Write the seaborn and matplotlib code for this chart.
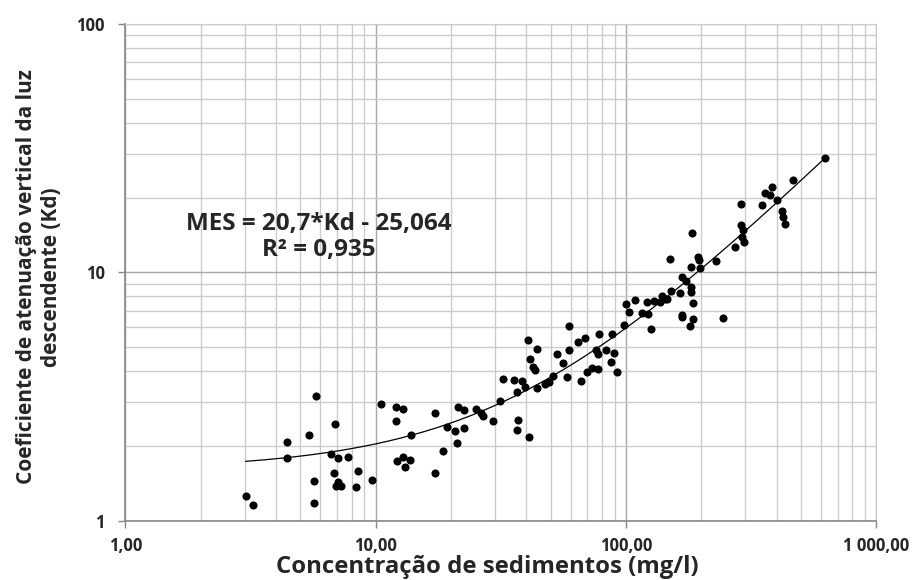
import numpy as np
import pandas as pd
import matplotlib
matplotlib.use("Agg")
import matplotlib.pyplot as plt
import matplotlib.ticker as mticker
import seaborn as sns

# Concentração de sedimentos (mg/l)
mes = [3.02, 3.23, 4.43, 4.43, 5.43, 5.64, 5.64, 5.75, 6.62, 6.85,
       6.84, 7.04, 7.04, 6.93, 7.23, 7.74, 8.35, 8.53, 9.67, 10.49,
       12.04, 12.84, 12.04, 12.19, 12.84, 13.70, 13.08, 13.89, 17.29, 17.29,
       18.51, 19.31, 20.72, 21.07, 21.21, 22.51, 22.51, 25.14, 26.33, 26.94,
       29.31, 31.35, 32.14, 35.72, 36.76, 37.17, 36.83, 38.49, 39.64, 41.13,
       40.75, 41.24, 42.46, 43.37, 44.18, 44.18, 47.55, 49.20, 51.05, 52.81,
       55.81, 58.23, 59.04, 58.98, 64.54, 68.33, 65.86, 70.12, 73.22, 77.44,
       76.16, 78.15, 77.44, 82.87, 88.10, 87.05, 89.66, 91.82, 97.9, 100.4,
       103.2, 108.7, 115.5, 122.1, 121.2, 129.5, 125.8, 136.6, 139.5, 143.7,
       145.7, 151.1, 163.9, 166.8, 166.8, 166.8, 174.0, 182.0, 181.7, 184.7,
       185.1, 180.5, 245.0, 149.5, 181.4, 193.8, 196.1, 198.3, 229.7, 183.9,
       271.7, 287.7, 287.7, 293.9, 290.4, 295.0, 350.1, 358.9, 375.8, 382.1,
       401.9, 419.7, 424.8, 431.4, 465.2, 623.2]

# Coeficiente de atenuação vertical da luz (Kd)
kd = [1.26, 1.153, 2.077, 1.791, 2.204, 1.448, 1.180, 3.18, 1.854, 2.446,
      1.554, 1.786, 1.428, 1.376, 1.382, 1.806, 1.370, 1.588, 1.460, 2.94,
      2.869, 2.81, 2.52, 1.733, 1.798, 1.762, 1.651, 2.224, 2.703, 1.554,
      1.902, 2.384, 2.293, 2.058, 2.877, 2.793, 2.357, 2.805, 2.716, 2.641,
      2.522, 3.034, 3.737, 3.683, 3.313, 2.539, 2.321, 3.666, 3.444, 2.174,
      5.32, 4.462, 4.176, 4.058, 4.918, 3.435, 3.551, 3.624, 3.831, 4.684,
      4.333, 3.778, 4.873, 6.055, 5.263, 5.461, 3.668, 3.957, 4.126, 4.096,
      4.887, 5.636, 4.710, 4.851, 5.662, 4.349, 4.732, 3.983, 6.153, 7.471,
      6.926, 7.775, 6.850, 6.787, 7.598, 7.683, 5.917, 7.577, 8.031, 7.790,
      7.847, 8.396, 8.257, 6.736, 6.582, 9.574, 9.270, 8.728, 8.311, 7.493,
      6.504, 6.097, 6.570, 11.33, 10.53, 11.50, 11.24, 10.45, 11.07, 14.41,
      12.61, 18.87, 15.56, 14.79, 13.84, 13.26, 18.67, 20.79, 20.50, 22.12,
      19.65, 17.60, 16.65, 15.73, 23.64, 28.92]

x_ticks = [1, 10, 100, 1000]
x_tick_labels = ["1,00", "10,00", "100,00", "1 000,00"]
y_ticks = [1, 10, 100]
y_tick_labels = ["1", "10", "100"]

df = pd.DataFrame({"MES": mes, "Kd": kd})

sns.set_style("white")
font = ["Open Sans", "DejaVu Sans"]

fig = plt.figure(figsize=(9.16, 5.8), dpi=100)
ax = fig.add_axes([0.137, 0.1022, 0.8197, 0.8564])

ax.set_xscale("log")
ax.set_yscale("log")
ax.set_xlim(1, 1000)
ax.set_ylim(1, 100)

# grid
ax.grid(True, which="major", color="#a8a8a8", linewidth=1.0)
ax.grid(True, which="minor", color="#cccccc", linewidth=1.0)
ax.set_axisbelow(True)

# linear trend line (fitted from the data, as in the spreadsheet)
b, a = np.polyfit(df["MES"], df["Kd"], 1)
xs = np.logspace(np.log10(min(mes)), np.log10(max(mes)), 200)
ax.plot(xs, a + b * xs, color="black", linewidth=0.9, zorder=2)

sns.scatterplot(data=df, x="MES", y="Kd", ax=ax, color="black", s=34,
                edgecolor="black", linewidth=0, zorder=3)

ax.set_xticks(x_ticks)
ax.set_xticklabels(x_tick_labels, fontfamily=font, fontweight="bold", fontsize=12)
ax.set_yticks(y_ticks)
ax.set_yticklabels(y_tick_labels, fontfamily=font, fontweight="bold", fontsize=12)
ax.xaxis.set_minor_formatter(mticker.NullFormatter())
ax.yaxis.set_minor_formatter(mticker.NullFormatter())
ax.tick_params(which="major", length=5, width=1, color="#888888", direction="out",
               bottom=True, left=True)
ax.tick_params(axis="x", pad=7)
ax.tick_params(axis="y", pad=10)
ax.tick_params(which="minor", length=0)

for side in ["top", "right"]:
    ax.spines[side].set_color("#cccccc")
for side in ["bottom", "left"]:
    ax.spines[side].set_color("#888888")
    ax.spines[side].set_linewidth(1.2)

ax.set_xlabel("")
ax.set_ylabel("")
fig.text(0.5317, 0.012, "Concentração de sedimentos (mg/l)", family=font,
         fontweight="bold", fontsize=17.2, ha="center", va="baseline")
fig.text(0.0431, 0.5224, "Coeficiente de atenuação vertical da luz\ndescendente (Kd)",
         family=font, fontweight="bold", fontsize=15, rotation=90,
         ha="center", va="center", multialignment="center", linespacing=1.25)

ax.text(0.2577, 0.571, "MES = 20,7*Kd - 25,064\nR² = 0,935", transform=ax.transAxes,
        ha="center", va="center", multialignment="center", family=font,
        fontweight="bold", fontsize=17.5, linespacing=1.1)

fig.savefig("out.png", dpi=100)
